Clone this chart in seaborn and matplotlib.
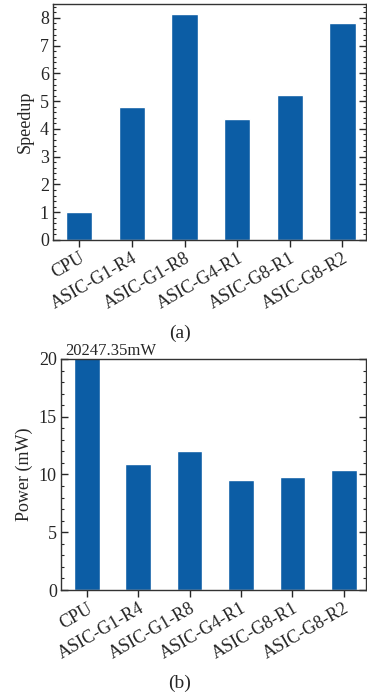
import numpy as np
import pandas as pd
import matplotlib
matplotlib.use('Agg')
import matplotlib.pyplot as plt
import seaborn as sns
from matplotlib.ticker import MultipleLocator

## data
configs = ['CPU', 'ASIC-G1-R4', 'ASIC-G1-R8', 'ASIC-G4-R1', 'ASIC-G8-R1', 'ASIC-G8-R2']
speedup = [1.0, 4.8, 8.13, 4.36, 5.23, 7.8]
power_mw = [20247.35, 10.9, 12.0, 9.5, 9.8, 10.4]

BAR_COLOR = '#0C5DA5'

## style
sns.set_theme(style='ticks')
plt.rcParams['font.family'] = ['Liberation Serif', 'DejaVu Serif']
plt.rcParams['font.size'] = 13
plt.rcParams['axes.linewidth'] = 1.0

fig = plt.figure(figsize=(3.67, 6.93), dpi=100)
ax_a = fig.add_axes([0.1444, 0.6537, 0.853, 0.3405])
ax_b = fig.add_axes([0.1662, 0.1486, 0.831, 0.3334])

df = pd.DataFrame({'config': configs, 'speedup': speedup, 'power': power_mw})


def style_axis(ax, minor_step):
    ax.set_xlabel('')
    ax.yaxis.set_minor_locator(MultipleLocator(minor_step))
    ax.tick_params(axis='x', which='major', direction='out', length=5, width=1,
                   bottom=True, top=False, labelsize=13, pad=2)
    ax.tick_params(axis='x', which='minor', bottom=False, top=False)
    ax.tick_params(axis='y', which='major', direction='in', length=5, width=1,
                   left=True, right=True, labelsize=13, pad=3)
    ax.tick_params(axis='y', which='minor', direction='in', length=2.5, width=0.8,
                   left=True, right=True)
    for sp in ax.spines.values():
        sp.set_visible(True)
        sp.set_color('#333333')
    plt.setp(ax.get_xticklabels(), rotation=30, ha='right', rotation_mode='anchor')


# (a) speedup
sns.barplot(data=df, x='config', y='speedup', color=BAR_COLOR, width=0.5,
            saturation=1, ax=ax_a)
ax_a.set_ylim(0, 8.5)
ax_a.set_xlim(-0.5, 5.45)
ax_a.set_yticks(range(0, 9))
ax_a.set_ylabel('Speedup', fontsize=13)
style_axis(ax_a, 0.2)

# (b) power
sns.barplot(data=df, x='config', y='power', color=BAR_COLOR, width=0.5,
            saturation=1, ax=ax_b)
ax_b.set_ylim(0, 20)
ax_b.set_xlim(-0.5, 5.43)
ax_b.set_yticks([0, 5, 10, 15, 20])
ax_b.set_ylabel('Power (mW)', fontsize=13)
style_axis(ax_b, 1)
ax_b.text(-0.42, 20, f'{power_mw[0]}mW', ha='left', va='bottom', fontsize=12,
          clip_on=False)

fig.text(0.49, 0.5195, '(a)', ha='center', va='center', fontsize=14)
fig.text(0.49, 0.0144, '(b)', ha='center', va='center', fontsize=14)

fig.savefig('out.png', dpi=100)
